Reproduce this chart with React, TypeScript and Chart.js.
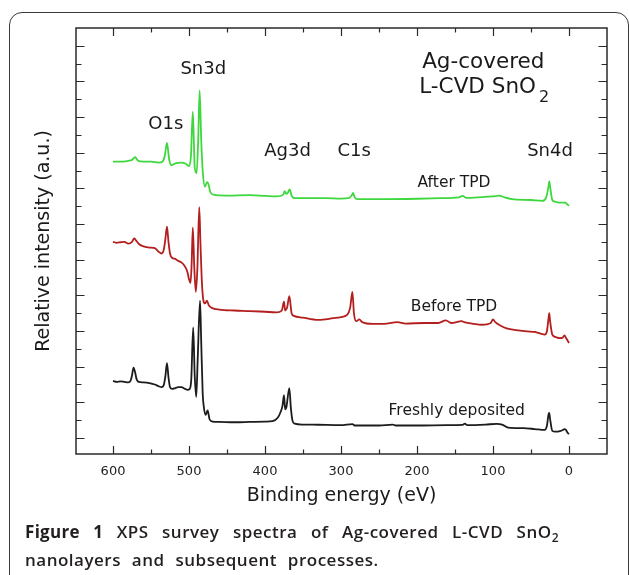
import React, { useEffect, useRef } from 'react';
import { Chart, registerables } from 'chart.js';

Chart.register(...registerables);

// ---- Data (binding energy in eV, relative intensity in a.u., stacked offsets as plotted) ----
const afterTpdEnergy = [600, 590, 580, 575, 571, 567, 560, 550, 540, 535, 532, 529, 526, 523, 518, 510, 505, 500, 497.5, 495, 492.5, 490, 488, 486, 484, 482, 479, 476.5, 474.5, 472, 468, 450, 420, 400, 385, 376, 374, 372, 370, 367.5, 365, 360, 340, 320, 300, 290, 286, 284, 282, 278, 260, 240, 200, 170, 145, 140, 135, 120, 100, 92, 85, 75, 50, 35, 30, 27, 26, 24.5, 22, 18, 12, 5, 2, 0];
const afterTpdIntensity = [15.5, 15.5, 15.55, 15.6, 15.75, 15.55, 15.5, 15.5, 15.45, 15.5, 15.8, 16.55, 15.6, 15.3, 15.4, 15.45, 15.4, 15.25, 15.8, 18.3, 15.2, 14.85, 16.6, 19.5, 16.8, 15.0, 14.1, 14.35, 14.25, 13.8, 13.65, 13.6, 13.62, 13.58, 13.55, 13.65, 13.85, 13.7, 13.75, 13.95, 13.6, 13.45, 13.45, 13.45, 13.43, 13.45, 13.6, 13.75, 13.5, 13.4, 13.4, 13.4, 13.42, 13.45, 13.5, 13.58, 13.47, 13.5, 13.55, 13.6, 13.5, 13.4, 13.35, 13.3, 13.5, 14.1, 14.4, 14.0, 13.35, 13.25, 13.2, 13.2, 13.1, 13.02];

const beforeTpdEnergy = [600, 595, 590, 585, 580, 575, 572, 570, 565, 560, 552, 545, 540, 536, 533, 531, 529, 527, 525, 522, 518, 515, 510, 505, 502, 500, 498, 496.5, 495, 493, 491, 489, 486.5, 485, 483, 481, 479, 476.5, 474, 470, 460, 440, 420, 400, 385, 378, 375, 373.5, 371, 368, 365, 362, 350, 330, 310, 300, 292, 288, 285, 283, 280, 276, 272, 258, 240, 226, 215, 190, 172, 162, 155, 141, 138, 125, 115, 103, 100, 97, 90, 82, 70, 55, 45, 32, 29, 27, 26, 25, 22, 18, 12, 9, 6, 4, 1, 0];
const beforeTpdIntensity = [11.0, 10.95, 10.98, 11.0, 10.9, 11.0, 11.2, 11.1, 10.85, 10.75, 10.68, 10.65, 10.45, 10.35, 10.6, 11.2, 11.85, 11.0, 10.35, 10.1, 10.05, 9.95, 9.85, 9.6, 9.3, 8.9, 8.7, 9.8, 11.8, 9.5, 8.2, 9.5, 12.95, 11.0, 8.7, 7.7, 7.55, 7.7, 7.45, 7.3, 7.2, 7.15, 7.12, 7.08, 7.05, 7.15, 7.65, 7.15, 7.3, 7.95, 7.0, 6.85, 6.75, 6.62, 6.72, 6.78, 6.9, 7.3, 8.2, 7.0, 6.55, 6.65, 6.5, 6.4, 6.42, 6.5, 6.42, 6.45, 6.45, 6.6, 6.45, 6.55, 6.5, 6.4, 6.35, 6.45, 6.65, 6.5, 6.3, 6.15, 6.05, 5.98, 5.95, 5.8, 6.0, 6.7, 7.0, 6.6, 5.8, 5.67, 5.6, 5.61, 5.75, 5.62, 5.4, 5.33];

const freshEnergy = [600, 595, 590, 585, 580, 577, 575, 573, 571, 569, 566, 560, 552, 545, 540, 536, 533, 531, 529, 527, 525, 522, 518, 514, 510, 505, 502, 499, 497, 494.5, 492.5, 490.5, 488.5, 485.5, 484, 482, 480.5, 478, 475.5, 473, 469, 460, 440, 420, 400, 390, 383, 380, 377, 375, 373.5, 372, 368, 366, 364, 361, 350, 330, 300, 285, 282, 250, 232, 228, 200, 160, 140, 137, 134, 110, 95, 88, 80, 60, 45, 32, 29, 27, 26, 25, 22, 18, 12, 8, 6, 4, 2, 0];
const freshIntensity = [3.2, 3.15, 3.18, 3.15, 3.12, 3.2, 3.5, 3.95, 3.7, 3.3, 3.15, 3.12, 3.08, 3.0, 2.9, 2.85, 3.0, 3.5, 4.2, 3.4, 2.85, 2.75, 2.8, 2.85, 2.85, 2.75, 2.7, 2.75, 3.3, 6.2, 3.5, 2.3, 4.5, 7.7, 5.5, 2.5, 1.75, 1.3, 1.55, 1.05, 0.92, 0.9, 0.88, 0.9, 0.92, 0.95, 1.15, 1.4, 1.8, 2.4, 1.6, 1.7, 2.8, 1.7, 1.0, 0.8, 0.75, 0.74, 0.72, 0.78, 0.7, 0.7, 0.75, 0.7, 0.7, 0.72, 0.73, 0.8, 0.72, 0.75, 0.79, 0.75, 0.58, 0.55, 0.5, 0.45, 0.7, 1.3, 1.4, 1.1, 0.4, 0.35, 0.38, 0.45, 0.5, 0.45, 0.3, 0.22];

const seriesNames = ['After TPD', 'Before TPD', 'Freshly deposited'];
// x ticks every 50 eV (labels on the 100s), y ticks (unlabelled) every unit
const xTickValues = [0, 50, 100, 150, 200, 250, 300, 350, 400, 450, 500, 550, 600];
const xTickLabels = ['0', '100', '200', '300', '400', '500', '600'];
const yTickValues = [0, 1, 2, 3, 4, 5, 6, 7, 8, 9, 10, 11, 12, 13, 14, 15, 16, 17, 18, 19, 20, 21, 22];

// ---- Annotation text (positions in data units) ----
const ANNOTATIONS = [
  { text: 'Sn3d', x: 481.2, y: 20.78, size: 18 },
  { text: 'O1s', x: 530.5, y: 17.7, size: 18 },
  { text: 'Ag3d', x: 370.4, y: 16.21, size: 18 },
  { text: 'C1s', x: 282.6, y: 16.21, size: 18 },
  { text: 'Sn4d', x: 25, y: 16.21, size: 18 },
  { text: 'Ag-covered', x: 112.8, y: 21.17, size: 21.5 },
  { text: seriesNames[0], x: 151.3, y: 14.4, size: 15.5 },
  { text: seriesNames[1], x: 151.3, y: 7.44, size: 15.5 },
  { text: seriesNames[2], x: 147.8, y: 1.62, size: 15.5 },
];
const SUB_LABEL = { main: 'L-CVD SnO', sub: '2', x: 111.6, y: 19.79, size: 21.5, subSize: 16 };

const FONT = '"DejaVu Sans", "Liberation Sans", Arial, sans-serif';
const CAP = 0.729;

const toPoints = (xs: number[], ys: number[]) => xs.map((x, i) => ({ x, y: ys[i] }));

const framePlugin = {
  id: 'xpsFrame',
  afterDraw(chart: any) {
    const { ctx, chartArea: a, scales } = chart;
    const xs = scales.x;
    const ys = scales.y;
    ctx.save();
    ctx.strokeStyle = '#2a2a2a';
    ctx.lineWidth = 1.5;
    ctx.strokeRect(a.left, a.top, a.right - a.left, a.bottom - a.top);
    ctx.lineWidth = 1.2;
    ctx.beginPath();
    xs.ticks.forEach((t: any) => {
      if (t.value <= xs.min + 1e-6 || t.value >= xs.max - 1e-6) return;
      const px = Math.round(xs.getPixelForValue(t.value)) + 0.5;
      const len = Math.round(t.value) % 100 === 0 ? 8 : 4.5;
      ctx.moveTo(px, a.bottom);
      ctx.lineTo(px, a.bottom - len);
      ctx.moveTo(px, a.top);
      ctx.lineTo(px, a.top + len);
    });
    ys.ticks.forEach((t: any) => {
      if (t.value <= ys.min + 1e-6 || t.value >= ys.max - 1e-6) return;
      const py = Math.round(ys.getPixelForValue(t.value)) + 0.5;
      const len = Math.round(t.value) % 2 === 0 ? 8.5 : 5.5;
      ctx.moveTo(a.left, py);
      ctx.lineTo(a.left + len, py);
      ctx.moveTo(a.right, py);
      ctx.lineTo(a.right - len, py);
    });
    ctx.stroke();

    ctx.fillStyle = '#1a1a1a';
    ctx.textAlign = 'center';
    ctx.textBaseline = 'alphabetic';
    ANNOTATIONS.forEach((an) => {
      ctx.font = `${an.size}px ${FONT}`;
      const px = xs.getPixelForValue(an.x);
      const py = ys.getPixelForValue(an.y) + (CAP * an.size) / 2;
      ctx.fillText(an.text, px, py);
    });

    // label with subscript
    const s = SUB_LABEL;
    ctx.font = `${s.size}px ${FONT}`;
    const wMain = ctx.measureText(s.main).width;
    ctx.font = `${s.subSize}px ${FONT}`;
    const wSub = ctx.measureText(s.sub).width;
    const gap = 3;
    const total = wMain + gap + wSub;
    const cx = xs.getPixelForValue(s.x);
    const base = ys.getPixelForValue(s.y) + (CAP * s.size) / 2;
    ctx.textAlign = 'left';
    ctx.font = `${s.size}px ${FONT}`;
    ctx.fillText(s.main, cx - total / 2, base);
    ctx.font = `${s.subSize}px ${FONT}`;
    ctx.fillText(s.sub, cx - total / 2 + wMain + gap, base + 9);
    ctx.restore();
  },
};

export default function App() {
  const ref = useRef<HTMLCanvasElement>(null);

  useEffect(() => {
    if (!ref.current) return;
    const lineStyle = { pointRadius: 0, borderWidth: 1.8, cubicInterpolationMode: 'monotone' as const, fill: false };
    const chart = new Chart(ref.current, {
      type: 'line',
      data: {
        datasets: [
          { label: seriesNames[0], data: toPoints(afterTpdEnergy, afterTpdIntensity), borderColor: '#3ed83e', ...lineStyle },
          { label: seriesNames[1], data: toPoints(beforeTpdEnergy, beforeTpdIntensity), borderColor: '#b31e1e', ...lineStyle },
          { label: seriesNames[2], data: toPoints(freshEnergy, freshIntensity), borderColor: '#1c1c1c', ...lineStyle },
        ],
      },
      options: {
        responsive: false,
        animation: false,
        devicePixelRatio: 1,
        layout: { padding: { left: 0, right: 22, top: 28, bottom: 0 } },
        plugins: { legend: { display: false }, tooltip: { enabled: false } },
        scales: {
          x: {
            type: 'linear',
            reverse: true,
            min: -50,
            max: 648.7,
            grid: { display: false, drawTicks: false },
            border: { display: false },
            afterBuildTicks: (scale: any) => {
              scale.ticks = xTickValues.map((value) => ({ value }));
            },
            ticks: {
              autoSkip: false,
              maxRotation: 0,
              padding: 10,
              color: '#222',
              font: { family: FONT, size: 13 },
              callback: (v: any) => {
                const s = String(Math.round(Number(v)));
                return xTickLabels.includes(s) ? s : '';
              },
            },
            title: {
              display: true,
              text: 'Binding energy (eV)',
              color: '#1a1a1a',
              font: { family: FONT, size: 19 },
              padding: { top: 0, bottom: 13 },
            },
            afterFit: (scale: any) => {
              scale.height = 66;
            },
          },
          y: {
            type: 'linear',
            min: -0.9,
            max: 23,
            grid: { display: false, drawTicks: false },
            border: { display: false },
            afterBuildTicks: (scale: any) => {
              scale.ticks = yTickValues.map((value) => ({ value }));
            },
            ticks: { display: false },
            title: {
              display: true,
              text: 'Relative intensity (a.u.)',
              color: '#1a1a1a',
              font: { family: FONT, size: 19 },
              padding: { top: 33, bottom: 0 },
            },
            afterFit: (scale: any) => {
              scale.width = 76;
            },
          },
        },
      },
      plugins: [framePlugin],
    });
    return () => chart.destroy();
  }, []);

  return (
    <div style={{ position: 'fixed', inset: 0, overflow: 'hidden', background: '#fff' }}>
      <div
        style={{
          position: 'absolute',
          left: 8.5,
          top: 11.5,
          width: 620,
          height: 700,
          boxSizing: 'border-box',
          border: '1.5px solid #3a3a3a',
          borderRadius: 13,
        }}
      />
      <canvas ref={ref} width={629} height={520} style={{ position: 'absolute', left: 0, top: 0, width: 629, height: 520 }} />
      <div
        style={{
          position: 'absolute',
          left: 25,
          top: 518,
          fontFamily: '"Open Sans", "Noto Sans", sans-serif',
          fontSize: 17,
          letterSpacing: 0.5,
          lineHeight: '28px',
          color: '#231f20',
          fontWeight: 600,
        }}
      >
        <div style={{ width: 534, textAlign: 'justify', textAlignLast: 'justify' }}>
          <span style={{ fontWeight: 700, letterSpacing: 0.3 }}>Figure 1</span> XPS survey spectra of Ag-covered L-CVD SnO
          <sub style={{ fontSize: 12, lineHeight: 0 }}>2</sub>
        </div>
        <div style={{ wordSpacing: 6 }}>nanolayers and subsequent processes.</div>
      </div>
    </div>
  );
}
